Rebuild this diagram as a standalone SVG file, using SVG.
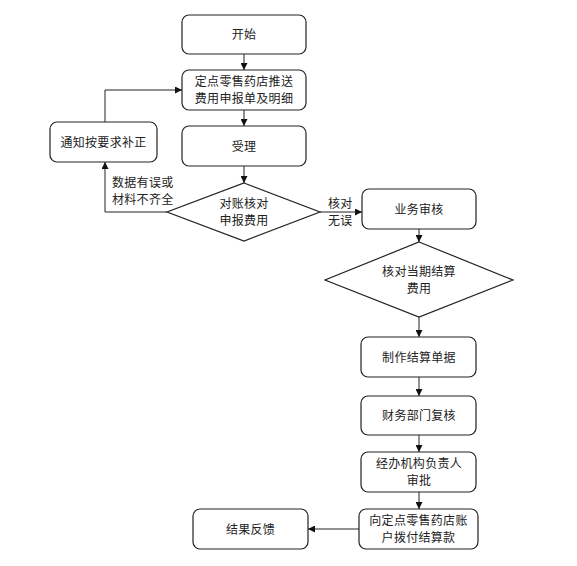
<svg xmlns="http://www.w3.org/2000/svg" width="577" height="566" viewBox="0 0 577 566">
<style>
.box{fill:#fff;stroke:#222;stroke-width:1.2}
.t{font-family:"Noto Sans CJK SC","Liberation Sans",sans-serif;font-size:12px;fill:#222;text-anchor:middle;letter-spacing:0.3px}
.l{font-family:"Noto Sans CJK SC","Liberation Sans",sans-serif;font-size:12px;fill:#222;letter-spacing:0.3px}
.c{fill:none;stroke:#222;stroke-width:1}
</style>
<defs>
<marker id="a" viewBox="0 0 10 10" refX="10" refY="5" markerWidth="7" markerHeight="7" orient="auto" markerUnits="userSpaceOnUse">
<path d="M0,0 L10,5 L0,10 z" fill="#111"/>
</marker>
</defs>
<rect width="577" height="566" fill="#fff"/>
<g id="connectors">
<path class="c" d="M244,54 V70" marker-end="url(#a)"/>
<path class="c" d="M244,110 V126" marker-end="url(#a)"/>
<path class="c" d="M244,166 V183" marker-end="url(#a)"/>
<path class="c" d="M167,212 H105 V162" marker-end="url(#a)"/>
<path class="c" d="M105,122 V90 H182" marker-end="url(#a)"/>
<path class="c" d="M320,212 H362" marker-end="url(#a)"/>
<path class="c" d="M419,229 V242" marker-end="url(#a)"/>
<path class="c" d="M419,317 V337" marker-end="url(#a)"/>
<path class="c" d="M419,377 V396" marker-end="url(#a)"/>
<path class="c" d="M419,435 V452" marker-end="url(#a)"/>
<path class="c" d="M419,492 V509" marker-end="url(#a)"/>
<path class="c" d="M359,529 H308" marker-end="url(#a)"/>
<text class="l" x="112" y="187">数据有误或</text>
<text class="l" x="112" y="204">材料不齐全</text>
<text class="l" x="328" y="208">核对</text>
<text class="l" x="328" y="225">无误</text>
</g>
<g id="start"><rect class="box" x="182" y="15" width="124" height="39" rx="7"/><text class="t" x="244" y="39">开始</text></g>
<g id="push"><rect class="box" x="182" y="70" width="124" height="40" rx="7"/><text class="t" x="244" y="86">定点零售药店推送</text><text class="t" x="244" y="103">费用申报单及明细</text></g>
<g id="accept"><rect class="box" x="182" y="126" width="124" height="40" rx="7"/><text class="t" x="244" y="150.5">受理</text></g>
<g id="notify"><rect class="box" x="50" y="122" width="107" height="40" rx="7"/><text class="t" x="103.5" y="146.5">通知按要求补正</text></g>
<g id="check1"><polygon class="box" points="244,183 320,212 244,241 167,212"/><text class="t" x="244" y="208">对账核对</text><text class="t" x="244" y="225">申报费用</text></g>
<g id="review"><rect class="box" x="362" y="189" width="114" height="40" rx="7"/><text class="t" x="419" y="213.5">业务审核</text></g>
<g id="check2"><polygon class="box" points="419,242 513,280 419,317 325,280"/><text class="t" x="419" y="276">核对当期结算</text><text class="t" x="419" y="293">费用</text></g>
<g id="make"><rect class="box" x="361" y="337" width="115" height="40" rx="7"/><text class="t" x="419" y="361.5">制作结算单据</text></g>
<g id="finance"><rect class="box" x="361" y="396" width="115" height="39" rx="7"/><text class="t" x="419" y="420">财务部门复核</text></g>
<g id="approve"><rect class="box" x="361" y="452" width="115" height="40" rx="7"/><text class="t" x="419" y="468">经办机构负责人</text><text class="t" x="419" y="485">审批</text></g>
<g id="pay"><rect class="box" x="359" y="509" width="119" height="40" rx="7"/><text class="t" x="418.5" y="525">向定点零售药店账</text><text class="t" x="418.5" y="542">户拨付结算款</text></g>
<g id="feedback"><rect class="box" x="193" y="509" width="115" height="40" rx="7"/><text class="t" x="250.5" y="533.5">结果反馈</text></g>
</svg>
